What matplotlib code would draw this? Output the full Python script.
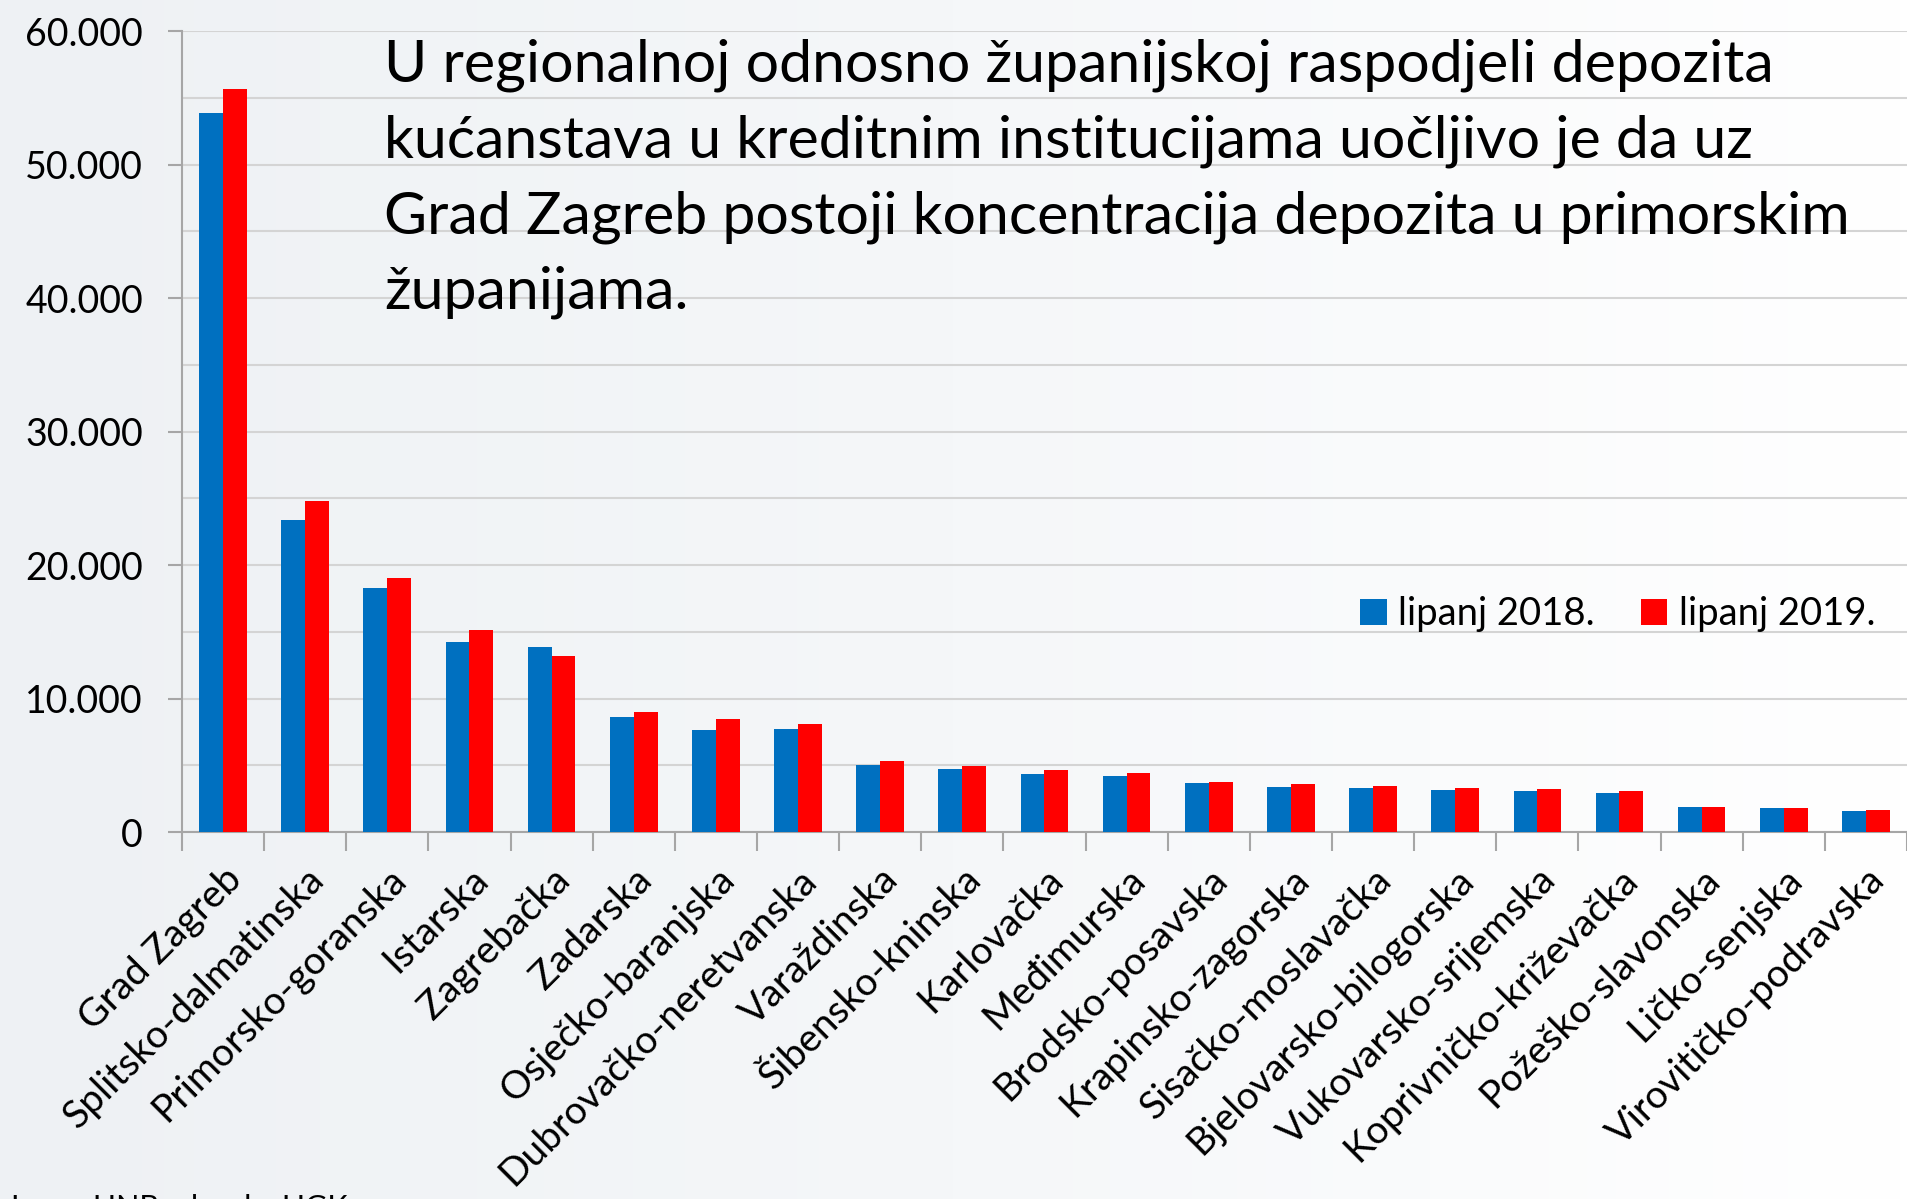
import numpy as np
import matplotlib.pyplot as plt
from matplotlib.ticker import FuncFormatter, MultipleLocator

plt.rcParams['font.family'] = ['Lato', 'DejaVu Sans']

zupanije = ["Grad Zagreb", "Splitsko-dalmatinska", "Primorsko-goranska", "Istarska",
            "Zagrebačka", "Zadarska", "Osječko-baranjska", "Dubrovačko-neretvanska",
            "Varaždinska", "Šibensko-kninska", "Karlovačka", "Međimurska",
            "Brodsko-posavska", "Krapinsko-zagorska", "Sisačko-moslavačka",
            "Bjelovarsko-bilogorska", "Vukovarsko-srijemska", "Koprivničko-križevačka",
            "Požeško-slavonska", "Ličko-senjska", "Virovitičko-podravska"]
lipanj_2018 = [53880, 23380, 18290, 14250, 13870, 8610, 7660, 7730, 5000, 4700, 4380,
               4200, 3680, 3400, 3330, 3150, 3100, 2930, 1880, 1800, 1550]
lipanj_2019 = [55680, 24780, 19060, 15140, 13200, 8980, 8480, 8100, 5350, 4950, 4630,
               4430, 3780, 3580, 3450, 3280, 3230, 3050, 1900, 1830, 1630]

tekst = ("U regionalnoj odnosno županijskoj raspodjeli depozita\n"
         "kućanstava u kreditnim institucijama uočljivo je da uz\n"
         "Grad Zagreb postoji koncentracija depozita u primorskim\n"
         "županijama.")

fig = plt.figure(figsize=(19.07, 11.99), dpi=100)

# light background, a bit greyer on the left
bg = fig.add_axes([0, 0, 1, 1], zorder=-10)
grad = np.linspace(0, 1, 256).reshape(1, -1)
bg.imshow(grad, aspect='auto', cmap=plt.matplotlib.colors.LinearSegmentedColormap.from_list(
    'bg', ['#eef1f4', '#f5f7f9', '#ffffff']), extent=[0, 1, 0, 1])
bg.axis('off')

ax = fig.add_axes([0.0954, 0.306, 0.9046, 0.668])
ax.patch.set_alpha(0)

x = np.arange(len(zupanije))
w = 0.29
ax.bar(x - w / 2, lipanj_2018, w, color='#0070C0', label='lipanj 2018.', zorder=3)
ax.bar(x + w / 2, lipanj_2019, w, color='#FF0000', label='lipanj 2019.', zorder=3)

ax.set_xlim(-0.5, len(zupanije) - 0.5)
ax.set_ylim(0, 60000)
ax.yaxis.set_major_locator(MultipleLocator(10000))
ax.yaxis.set_minor_locator(MultipleLocator(5000))
ax.yaxis.set_major_formatter(FuncFormatter(lambda v, p: f"{int(v):,}".replace(",", ".")))
ax.grid(axis='y', which='both', color='#d4d4d4', linewidth=1.5, zorder=0)

ax.set_xticks(x)
ax.set_xticklabels(zupanije, rotation=45, ha='right', va='top', rotation_mode='anchor')
ax.set_xticks(np.arange(len(zupanije) + 1) - 0.5, minor=True)
ax.tick_params(axis='x', which='major', length=0, pad=21, labelsize=28)
ax.tick_params(axis='x', which='minor', length=14, width=1.5, color='#a6a6a6')
ax.tick_params(axis='y', which='major', length=10, width=1.5, color='#a6a6a6', labelsize=27, pad=18)
ax.tick_params(axis='y', which='minor', length=0)

for s in ['top', 'right']:
    ax.spines[s].set_visible(False)
for s in ['left', 'bottom']:
    ax.spines[s].set_color('#a6a6a6')
    ax.spines[s].set_linewidth(1.5)

ax.legend(loc='center left', bbox_to_anchor=(0.663, 0.272), ncol=2, frameon=False,
          fontsize=27.5, handlelength=0.7, handleheight=0.7, handletextpad=0.3,
          columnspacing=1.2)

fig.text(0.2015, 0.968, tekst, fontsize=42.5, va='top', ha='left', linespacing=1.52)

fig.text(0.006, 0.004, "Izvor: HNB, obrada: HGK", fontsize=22, va='top', ha='left')

fig.savefig('out.png', dpi=100)
